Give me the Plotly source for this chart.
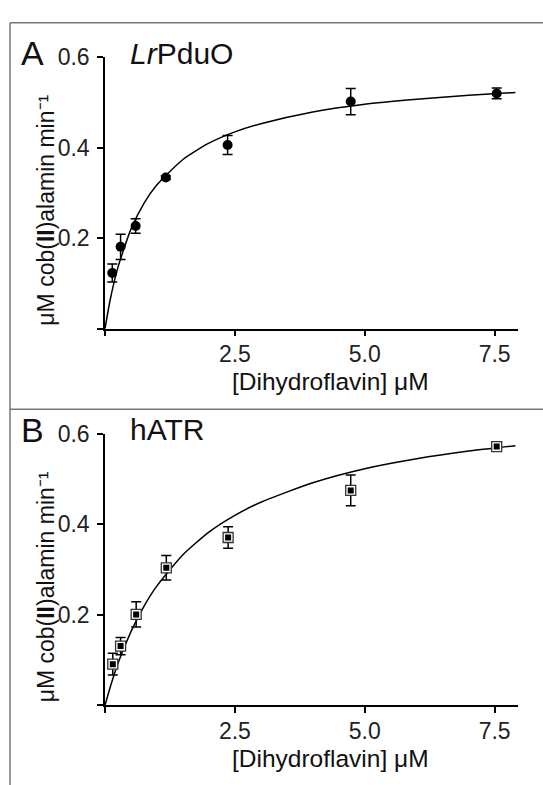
import plotly.graph_objects as go

W, H = 543, 785

# Panel A: LrPduO
a_x = [0.14, 0.30, 0.59, 1.17, 2.36, 4.73, 7.54]
a_y = [0.123, 0.181, 0.227, 0.334, 0.406, 0.502, 0.520]
a_err = [0.020, 0.028, 0.016, 0.004, 0.021, 0.029, 0.012]
a_fit_x = [0, 0.1, 0.25, 0.5, 0.75, 1.0, 1.5, 2.0, 2.5, 3.0, 4.0, 5.0, 6.0, 7.0, 7.9]
a_fit_y = [0, 0.064, 0.136, 0.220, 0.277, 0.318, 0.374, 0.410, 0.435, 0.453, 0.479, 0.496, 0.507, 0.516, 0.522]

# Panel B: hATR
b_x = [0.15, 0.30, 0.60, 1.18, 2.37, 4.73, 7.54]
b_y = [0.091, 0.131, 0.201, 0.304, 0.371, 0.475, 0.572]
b_err = [0.024, 0.019, 0.028, 0.027, 0.024, 0.034, 0.006]
b_fit_x = [0, 0.1, 0.25, 0.5, 0.75, 1.0, 1.5, 2.0, 2.5, 3.0, 4.0, 5.0, 6.0, 7.0, 7.9]
b_fit_y = [0, 0.040, 0.093, 0.163, 0.219, 0.264, 0.333, 0.383, 0.420, 0.449, 0.492, 0.523, 0.545, 0.562, 0.574]

x_ticks = [2.5, 5.0, 7.5]
x_ticktext = ["2.5", "5.0", "7.5"]
y_ticks = [0.2, 0.4, 0.6]
y_ticktext = ["0.2", "0.4", "0.6"]
origin_tick = [0]

FONT = "Liberation Sans, Arial, sans-serif"

def px(x):
    return x / W

def py(y):
    return 1 - y / H

fig = go.Figure()

fig.add_trace(go.Scatter(x=a_fit_x, y=a_fit_y, mode="lines",
                         line=dict(color="black", width=1.5, shape="spline", smoothing=0.6),
                         xaxis="x", yaxis="y", hoverinfo="skip"))
fig.add_trace(go.Scatter(x=a_x, y=a_y, mode="markers",
                         marker=dict(symbol="circle", size=10, color="black"),
                         error_y=dict(type="data", array=a_err, color="black", thickness=1.5, width=5),
                         xaxis="x", yaxis="y"))

fig.add_trace(go.Scatter(x=b_fit_x, y=b_fit_y, mode="lines",
                         line=dict(color="black", width=1.5, shape="spline", smoothing=0.6),
                         xaxis="x2", yaxis="y2", hoverinfo="skip"))
fig.add_trace(go.Scatter(x=b_x, y=b_y, mode="markers",
                         marker=dict(symbol="square", size=10, color="white",
                                     line=dict(color="#333333", width=1.3)),
                         error_y=dict(type="data", array=b_err, color="black", thickness=1.5, width=5),
                         xaxis="x2", yaxis="y2"))
fig.add_trace(go.Scatter(x=b_x, y=b_y, mode="markers",
                         marker=dict(symbol="square", size=6, color="black"),
                         xaxis="x2", yaxis="y2"))

minor = dict(tickvals=origin_tick, ticks="outside", ticklen=6, tickwidth=1.5,
             tickcolor="black", showgrid=False)
xdom = [px(105), px(518)]
common_x = dict(range=[0, 7.95], tickvals=x_ticks, ticktext=x_ticktext,
                showline=True, linecolor="black", linewidth=1.5,
                ticks="outside", ticklen=6, tickwidth=1.5, tickcolor="black",
                showgrid=False, zeroline=False, minor=minor, ticklabelstandoff=-2,
                tickfont=dict(family=FONT, size=23, color="#222"),
                domain=xdom)
common_y = dict(range=[0, 0.6], tickvals=y_ticks, ticktext=y_ticktext,
                showline=True, linecolor="black", linewidth=1.5,
                ticks="outside", ticklen=6, tickwidth=1.5, tickcolor="black",
                showgrid=False, zeroline=False, ticklabelstandoff=3, minor=minor,
                tickfont=dict(family=FONT, size=23, color="#222"))

fig.update_layout(
    width=W, height=H,
    margin=dict(l=0, r=0, t=0, b=0),
    paper_bgcolor="white", plot_bgcolor="white",
    showlegend=False,
    xaxis=dict(**common_x, anchor="y"),
    yaxis=dict(**common_y, domain=[py(321), py(45)], anchor="x"),
    xaxis2=dict(**common_x, anchor="y2"),
    yaxis2=dict(**common_y, domain=[py(704), py(428)], anchor="x2"),
)

ytitle = "μM cob(<b>II</b>)alamin min⁻¹"
xtitle = "[Dihydroflavin] μM"

ann = []
for off, letter, name in [(0, "A", "<i>Lr</i>PduO"), (383, "B", "hATR")]:
    ann.append(dict(x=px(32), y=py(41 + off), xref="paper", yref="paper", text=letter,
                    showarrow=False, font=dict(family=FONT, size=34, color="#111"),
                    xanchor="center", yanchor="middle"))
    ann.append(dict(x=px(128), y=py(41 + off), xref="paper", yref="paper", text=name,
                    showarrow=False, font=dict(family=FONT, size=30, color="#111"),
                    xanchor="left", yanchor="middle"))
    ann.append(dict(x=px(46), y=py(201 + off), xref="paper", yref="paper", text=ytitle,
                    textangle=-90, showarrow=False, font=dict(family=FONT, size=23, color="#111"),
                    xanchor="center", yanchor="middle"))
    ann.append(dict(x=px(330), y=py(375 + off), xref="paper", yref="paper", text=xtitle,
                    showarrow=False, font=dict(family=FONT, size=24.5, color="#111"),
                    xanchor="center", yanchor="middle"))
fig.update_layout(annotations=ann)

frame = dict(color="#777777", width=1.5)
fig.update_layout(shapes=[
    dict(type="line", xref="paper", yref="paper", x0=px(10), x1=1, y0=py(10), y1=py(10), line=frame),
    dict(type="line", xref="paper", yref="paper", x0=px(10), x1=1, y0=py(403), y1=py(403), line=frame),
    dict(type="line", xref="paper", yref="paper", x0=px(10), x1=px(10), y0=py(10), y1=0, line=frame),
])

fig.write_html("out.html")
